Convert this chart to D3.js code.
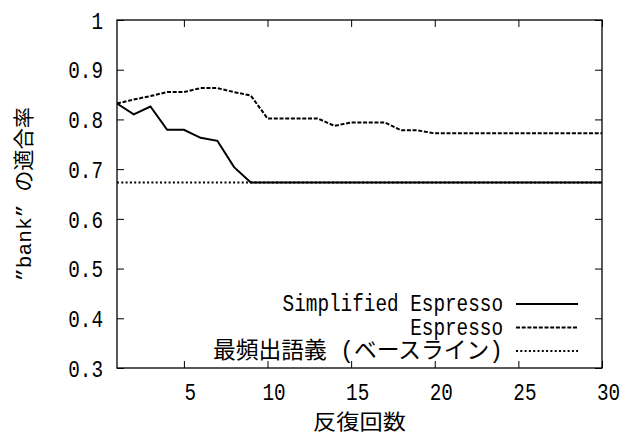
<!DOCTYPE html>
<html>
<head>
<meta charset="utf-8">
<script src="https://cdn.jsdelivr.net/npm/d3@7"></script>
<style>
  body { margin: 0; background: #fff; }
  svg text { font-family: "Liberation Mono", "Noto Sans CJK JP", monospace; fill: #000; }
</style>
</head>
<body>
<div id="chart"></div>
<script>
// data
var iterations = [1,2,3,4,5,6,7,8,9,10,11,12,13,14,15,16,17,18,19,20,21,22,23,24,25,26,27,28,29,30];
var simplified = [0.832,0.810,0.826,0.779,0.779,0.763,0.757,0.704,0.673,0.673,
                  0.673,0.673,0.673,0.673,0.673,0.673,0.673,0.673,0.673,0.673,
                  0.673,0.673,0.673,0.673,0.673,0.673,0.673,0.673,0.673,0.673];
var espresso   = [0.832,0.840,0.847,0.855,0.855,0.863,0.863,0.855,0.848,0.802,
                  0.802,0.802,0.802,0.787,0.794,0.794,0.794,0.778,0.778,0.772,
                  0.772,0.772,0.772,0.772,0.772,0.772,0.772,0.772,0.772,0.772];
var baselineRate = 0.673;
var xTicks = [5,10,15,20,25,30];
var yTicks = [0.3,0.4,0.5,0.6,0.7,0.8,0.9,1];
var seriesNames = ["Simplified Espresso", "Espresso", "最頻出語義 (ベースライン)"];

var width = 625, height = 436;
var margin = {top: 20, right: 20, bottom: 68, left: 117};
var unit = 11.6; // half-width character cell
var fontSize = "23px";

// gnuplot-like text: half-width latin, full-width kana/kanji
function textUnits(s) {
  var n = 0;
  for (var ch of s) n += ch.codePointAt(0) > 0x2e80 ? 2 : 1;
  return n;
}
function fitText(sel) {
  sel.attr("textLength", function() { return textUnits(this.textContent) * unit; })
     .attr("lengthAdjust", "spacingAndGlyphs");
}

var x = d3.scaleLinear().domain([1, 30]).range([margin.left, width - margin.right - 3]);
var y = d3.scaleLinear().domain([0.3, 1]).range([height - margin.bottom, margin.top]);

var svg = d3.select("#chart").append("svg")
    .attr("width", width)
    .attr("height", height);

// axes with inward ticks
var fmtY = function(d) { return d === 1 ? "1" : d.toFixed(1); };

var gLeft = svg.append("g")
    .attr("transform", `translate(${x(1)},0)`)
    .call(d3.axisLeft(y).tickValues(yTicks).tickFormat(fmtY).tickSizeInner(-7).tickSizeOuter(0).tickPadding(14));
gLeft.selectAll("text").style("font-size", fontSize).attr("dy", "0.36em").call(fitText);

var gBottom = svg.append("g")
    .attr("transform", `translate(0,${y(0.3)})`)
    .call(d3.axisBottom(x).tickValues(xTicks).tickSizeInner(-7).tickSizeOuter(0).tickPadding(17));
gBottom.selectAll("text").style("font-size", fontSize).attr("dy", "0.66em").attr("dx", 6).call(fitText);

svg.append("g")
    .attr("transform", `translate(${x(30)},0)`)
    .call(d3.axisRight(y).tickValues(yTicks).tickFormat("").tickSizeInner(-7).tickSizeOuter(0));
svg.append("g")
    .attr("transform", `translate(0,${y(1)})`)
    .call(d3.axisTop(x).tickValues(xTicks).tickFormat("").tickSizeInner(-7).tickSizeOuter(0));

svg.selectAll(".domain").remove();
svg.selectAll(".tick line").attr("stroke", "#000").attr("stroke-width", 1);

// frame
svg.append("rect")
    .attr("x", x(1)).attr("y", y(1))
    .attr("width", x(30) - x(1)).attr("height", y(0.3) - y(1))
    .attr("fill", "none").attr("stroke", "#000").attr("stroke-width", 1.3);

var line = d3.line().x((d, i) => x(iterations[i])).y(d => y(d));

var styles = [
  {dash: null, width: 2},
  {dash: "4,1.7", width: 2},
  {dash: "2,2.3", width: 2}
];

svg.append("line")
    .attr("x1", x(iterations[0])).attr("x2", x(iterations[iterations.length - 1]))
    .attr("y1", y(baselineRate)).attr("y2", y(baselineRate))
    .attr("stroke", "#000").attr("stroke-width", styles[2].width)
    .attr("stroke-dasharray", styles[2].dash);

svg.append("path").datum(espresso)
    .attr("d", line).attr("fill", "none")
    .attr("stroke", "#000").attr("stroke-width", styles[1].width)
    .attr("stroke-dasharray", styles[1].dash);

svg.append("path").datum(simplified)
    .attr("d", line).attr("fill", "none")
    .attr("stroke", "#000").attr("stroke-width", styles[0].width)
    .attr("stroke-linejoin", "miter");

// legend
var legend = svg.append("g");
seriesNames.forEach(function(name, i) {
  var ly = 304 + i * 23.5;
  legend.append("text")
      .attr("x", 503).attr("y", ly + 7)
      .attr("text-anchor", "end")
      .style("font-size", fontSize)
      .text(name).call(fitText);
  legend.append("line")
      .attr("x1", 516).attr("x2", 578)
      .attr("y1", ly).attr("y2", ly)
      .attr("stroke", "#000").attr("stroke-width", styles[i].width)
      .attr("stroke-dasharray", styles[i].dash);
});

// axis titles
svg.append("text")
    .attr("x", (x(1) + x(30)) / 2).attr("y", 429)
    .attr("text-anchor", "middle")
    .style("font-size", "21px")
    .text("反復回数").call(fitText);

svg.append("text")
    .attr("transform", "translate(31,194) rotate(-90)")
    .attr("text-anchor", "middle")
    .style("font-size", "21px")
    .text("”bank” の適合率").call(fitText);
</script>
</body>
</html>
